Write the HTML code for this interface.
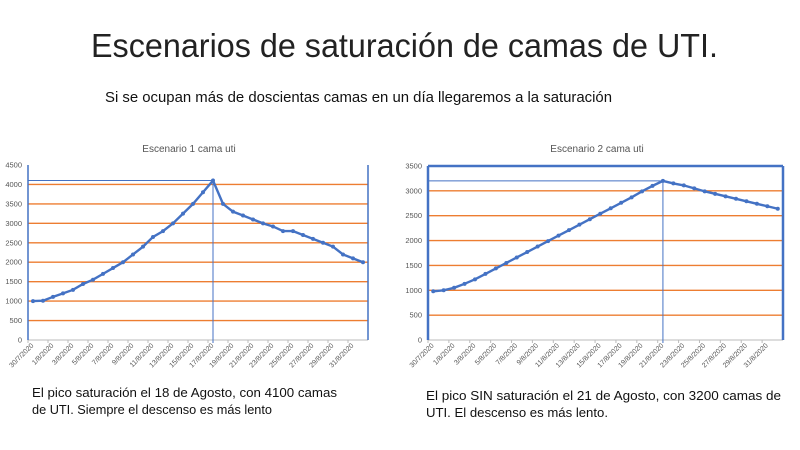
<!DOCTYPE html>
<html><head><meta charset="utf-8"><style>
body{margin:0;background:#fff}
svg{display:block;font-family:"Liberation Sans",sans-serif}
</style></head><body>
<svg width="800" height="450" viewBox="0 0 800 450">
<text x="91" y="57" font-size="33" fill="#222" textLength="627" lengthAdjust="spacingAndGlyphs">Escenarios de saturación de camas de UTI.</text>
<text x="105" y="102" font-size="15" fill="#111" textLength="507" lengthAdjust="spacingAndGlyphs">Si se ocupan más de doscientas camas en un día llegaremos a la saturación</text>
<text x="189" y="152" font-size="10" fill="#555" text-anchor="middle">Escenario 1 cama uti</text>
<text x="597" y="152" font-size="10" fill="#555" text-anchor="middle">Escenario 2 cama uti</text>
<g id="c1"></g><g id="c2"></g>
<text x="32" y="397" font-size="13" fill="#111" textLength="305" lengthAdjust="spacingAndGlyphs">El pico saturación el 18 de Agosto, con 4100  camas</text>
<text x="32" y="414" font-size="13" fill="#111" textLength="240" lengthAdjust="spacingAndGlyphs">de UTI. Siempre el descenso es más lento</text>
<text x="426" y="400" font-size="13" fill="#111" textLength="355" lengthAdjust="spacingAndGlyphs">El pico SIN saturación el 21 de Agosto, con 3200  camas de</text>
<text x="426" y="417" font-size="13" fill="#111" textLength="182" lengthAdjust="spacingAndGlyphs">UTI. El descenso es más lento.</text>
</svg>
<script>
function chart(id,x0,x1,yTop,y0,max,step,data,peak,thick){
 const g=document.getElementById(id);let s="";
 const Y=v=>y0-(v/max)*(y0-yTop);
 for(let v=0;v<=max;v+=step){const y=Y(v);
  if(v>0&&v<max)s+=`<line x1="${x0}" x2="${x1}" y1="${y}" y2="${y}" stroke="#ED7D31" stroke-width="1.4"/>`;
  s+=`<text x="${x0-6}" y="${y+2.5}" font-size="7.5" fill="#555" text-anchor="end">${v}</text>`;}
 s+=`<line x1="${x0}" x2="${x1}" y1="${y0}" y2="${y0}" stroke="#bbb"/>`;
 const n=data.length,w=(x1-x0)/n,X=i=>x0+w*(i+0.5);
 const lab=["30/7/2020","1/8/2020","3/8/2020","5/8/2020","7/8/2020","9/8/2020","11/8/2020","13/8/2020","15/8/2020","17/8/2020","19/8/2020","21/8/2020","23/8/2020","25/8/2020","27/8/2020","29/8/2020","31/8/2020"];
 lab.forEach((t,k)=>{const x=x0+w*2*k+w*0.6;s+=`<line x1="${x0+w*2*k}" x2="${x0+w*2*k}" y1="${y0}" y2="${y0+3}" stroke="#bbb"/><text transform="translate(${x},${y0+6}) rotate(-45)" font-size="7" fill="#555" text-anchor="end">${t}</text>`;});
 const tw=thick?2.5:1.5;
 s+=`<line x1="${x0}" x2="${x0}" y1="${yTop}" y2="${y0}" stroke="#4472C4" stroke-width="${tw}"/><line x1="${x1}" x2="${x1}" y1="${yTop}" y2="${y0}" stroke="#4472C4" stroke-width="${tw}"/>`;
 if(thick)s+=`<line x1="${x0}" x2="${x1}" y1="${yTop}" y2="${yTop}" stroke="#4472C4" stroke-width="${tw}"/>`;
 const px=X(peak),py=Y(data[peak]);
 s+=`<line x1="${x0}" x2="${px}" y1="${py}" y2="${py}" stroke="#4472C4"/><line x1="${px}" x2="${px}" y1="${py}" y2="${y0+3}" stroke="#4472C4"/>`;
 s+=`<polyline fill="none" stroke="#4472C4" stroke-width="2.4" points="${data.map((v,i)=>X(i)+","+Y(v)).join(" ")}"/>`;
 data.forEach((v,i)=>s+=`<circle cx="${X(i)}" cy="${Y(v)}" r="2" fill="#4472C4"/>`);
 g.innerHTML=s;
}
chart("c1",28,368,165,340,4500,500,[1000,1010,1110,1200,1290,1440,1550,1700,1850,2000,2200,2400,2650,2800,3000,3250,3500,3800,4100,3500,3300,3200,3100,3000,2920,2800,2800,2700,2600,2500,2400,2200,2100,2000],18,false);
chart("c2",428,783,166,340,3500,500,[980,1000,1050,1130,1220,1330,1440,1550,1660,1770,1880,1990,2100,2210,2320,2430,2540,2650,2760,2870,2990,3100,3200,3150,3110,3050,2990,2940,2890,2840,2790,2740,2690,2640],22,true);
</script>
</body></html>
